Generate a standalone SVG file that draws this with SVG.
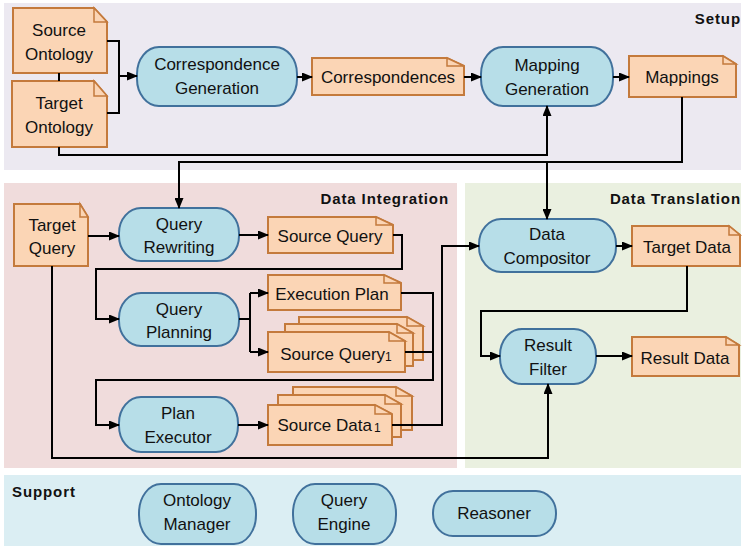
<svg xmlns="http://www.w3.org/2000/svg" width="744" height="549" viewBox="0 0 744 549">
<defs>
<style>
.panel{stroke:none}
.title{font-family:"Liberation Sans",Arial,sans-serif;font-weight:bold;font-size:15px;letter-spacing:0.9px;fill:#111}
.proc{fill:#B7DEE8;stroke:#41719C;stroke-width:2}
.doc{fill:#FBD5B5;stroke:#C47A3C;stroke-width:2;stroke-linejoin:miter}
.fold{fill:#FBD5B5;stroke:#C47A3C;stroke-width:1.5}
.t{font-family:"Liberation Sans",Arial,sans-serif;font-size:17px;fill:#111;text-anchor:middle}
.sub{font-size:12px}
.c{fill:none;stroke:#000;stroke-width:2}
.a{marker-end:url(#arr)}
</style>
<marker id="arr" markerUnits="userSpaceOnUse" markerWidth="11" markerHeight="9" refX="10" refY="4.5" orient="auto">
<path d="M0,0 L11,4.5 L0,9 Z" fill="#000"/>
</marker>
</defs>
<rect width="744" height="549" fill="#fff"/>
<g id="panels">
<rect class="panel" x="4" y="3" width="737" height="167" fill="#ECE9F1"/>
<rect class="panel" x="4" y="183" width="453" height="285" fill="#F0DCDC"/>
<rect class="panel" x="465" y="183" width="276" height="285" fill="#EAF0E0"/>
<rect class="panel" x="4" y="475" width="737" height="71" fill="#DBEEF3"/>
<text class="title" x="741" y="24" text-anchor="end">Setup</text>
<text class="title" x="449" y="204" text-anchor="end">Data Integration</text>
<text class="title" x="741" y="204" text-anchor="end">Data Translation</text>
<text class="title" x="12" y="497">Support</text>
</g>
<g id="source-ontology">
<path class="doc" d="M13,8 H94 L107,22 V73 H13 Z"/>
<path class="fold" d="M94,8 V22 H107 Z"/>
<text class="t" x="59" y="36">Source</text>
<text class="t" x="59" y="60">Ontology</text>
</g>
<g id="target-ontology">
<path class="doc" d="M12,81 H94 L107,96 V147 H12 Z"/>
<path class="fold" d="M94,81 V96 H107 Z"/>
<text class="t" x="59" y="109">Target</text>
<text class="t" x="59" y="133">Ontology</text>
</g>
<g id="correspondence-generation">
<rect class="proc" x="137" y="47" width="160" height="59" rx="22" ry="27"/>
<text class="t" x="217" y="70">Correspondence</text>
<text class="t" x="217" y="94">Generation</text>
</g>
<g id="correspondences">
<path class="doc" d="M312,58 H447 L464,66 V95 H312 Z"/>
<path class="fold" d="M447,58 V66 H464 Z"/>
<text class="t" x="388" y="83">Correspondences</text>
</g>
<g id="mapping-generation">
<rect class="proc" x="481" y="47" width="132" height="59" rx="22" ry="27"/>
<text class="t" x="547" y="71">Mapping</text>
<text class="t" x="547" y="95">Generation</text>
</g>
<g id="mappings">
<path class="doc" d="M629,56 H723 L736,64 V97 H629 Z"/>
<path class="fold" d="M723,56 V64 H736 Z"/>
<text class="t" x="682" y="83">Mappings</text>
</g>
<g id="target-query">
<path class="doc" d="M14,204 H80 L88,217 V266 H14 Z"/>
<path class="fold" d="M80,204 V217 H88 Z"/>
<text class="t" x="52" y="231">Target</text>
<text class="t" x="52" y="254">Query</text>
</g>
<g id="query-rewriting">
<rect class="proc" x="119" y="208" width="120" height="53" rx="22" ry="25"/>
<text class="t" x="179" y="230">Query</text>
<text class="t" x="179" y="253">Rewriting</text>
</g>
<g id="source-query">
<path class="doc" d="M268,217 H376 L393,225 V253 H268 Z"/>
<path class="fold" d="M376,217 V225 H393 Z"/>
<text class="t" x="330" y="242">Source Query</text>
</g>
<g id="query-planning">
<rect class="proc" x="119" y="293" width="120" height="53" rx="22" ry="25"/>
<text class="t" x="179" y="315">Query</text>
<text class="t" x="179" y="338">Planning</text>
</g>
<g id="execution-plan">
<path class="doc" d="M268,275 H384 L401,283 V310 H268 Z"/>
<path class="fold" d="M384,275 V283 H401 Z"/>
<text class="t" x="332" y="300">Execution Plan</text>
</g>
<g id="source-query-1">
<path class="doc" d="M299,317 H407 L423,326 V360 H299 Z"/>
<path class="fold" d="M407,317 V326 H423 Z"/>
<path class="doc" d="M285,324 H397 L413,333 V366 H285 Z"/>
<path class="fold" d="M397,324 V333 H413 Z"/>
<path class="doc" d="M268,332 H389 L405,341 V372 H268 Z"/>
<path class="fold" d="M389,332 V341 H405 Z"/>
<text class="t" x="336" y="360">Source Query<tspan class="sub" dy="1">1</tspan></text>
</g>
<g id="plan-executor">
<rect class="proc" x="119" y="397" width="119" height="55" rx="22" ry="26"/>
<text class="t" x="178" y="419">Plan</text>
<text class="t" x="178" y="443">Executor</text>
</g>
<g id="source-data-1">
<path class="doc" d="M293,387 H396 L412,396 V430 H293 Z"/>
<path class="fold" d="M396,387 V396 H412 Z"/>
<path class="doc" d="M278,395 H385 L401,404 V437 H278 Z"/>
<path class="fold" d="M385,395 V404 H401 Z"/>
<path class="doc" d="M268,405 H375 L392,414 V445 H268 Z"/>
<path class="fold" d="M375,405 V414 H392 Z"/>
<text class="t" x="329" y="431">Source Data<tspan class="sub" dx="2" dy="1">1</tspan></text>
</g>
<g id="data-compositor">
<rect class="proc" x="479" y="219" width="137" height="53" rx="22" ry="25"/>
<text class="t" x="547" y="240">Data</text>
<text class="t" x="547" y="264">Compositor</text>
</g>
<g id="target-data">
<path class="doc" d="M632,226 H729 L740,235 V266 H632 Z"/>
<path class="fold" d="M729,226 V235 H740 Z"/>
<text class="t" x="687" y="253">Target Data</text>
</g>
<g id="result-filter">
<rect class="proc" x="500" y="329" width="96" height="55" rx="22" ry="26"/>
<text class="t" x="548" y="351">Result</text>
<text class="t" x="548" y="375">Filter</text>
</g>
<g id="result-data">
<path class="doc" d="M632,337 H726 L739,345 V376 H632 Z"/>
<path class="fold" d="M726,337 V345 H739 Z"/>
<text class="t" x="685" y="364">Result Data</text>
</g>
<g id="ontology-manager">
<rect class="proc" x="139" y="484" width="117" height="60" rx="22" ry="29"/>
<text class="t" x="197" y="506">Ontology</text>
<text class="t" x="197" y="530">Manager</text>
</g>
<g id="query-engine">
<rect class="proc" x="293" y="484" width="103" height="60" rx="22" ry="29"/>
<text class="t" x="344" y="506">Query</text>
<text class="t" x="344" y="530">Engine</text>
</g>
<g id="reasoner">
<rect class="proc" x="433" y="491" width="123" height="45" rx="20" ry="22"/>
<text class="t" x="494" y="519">Reasoner</text>
</g>
<g id="connectors">
<path class="c" d="M107,41 H119 V113 H107"/>
<path class="c a" d="M119,76 H137"/>
<path class="c" d="M59,73 V81"/>
<path class="c a" d="M59,147 V155 H547 V106"/>
<path class="c a" d="M297,77 H312"/>
<path class="c a" d="M464,77 H481"/>
<path class="c a" d="M613,77 H629"/>
<path class="c a" d="M682,97 V162 H179 V208"/>
<path class="c a" d="M547,162 V219"/>
<path class="c a" d="M88,236 H119"/>
<path class="c a" d="M239,235 H268"/>
<path class="c a" d="M393,235 H402 V269 H96 V319 H119"/>
<path class="c" d="M239,319 H250 M250,293 V352"/>
<path class="c a" d="M250,293 H268"/>
<path class="c a" d="M250,352 H268"/>
<path class="c a" d="M401,293 H433 V380 H96 V425 H119"/>
<path class="c" d="M405,352 H433"/>
<path class="c a" d="M238,425 H268"/>
<path class="c a" d="M392,425 H442 V246 H479"/>
<path class="c a" d="M616,246 H632"/>
<path class="c a" d="M687,266 V311 H481 V356 H500"/>
<path class="c a" d="M596,356 H632"/>
<path class="c a" d="M52,266 V458 H548 V384"/>
</g>
</svg>
